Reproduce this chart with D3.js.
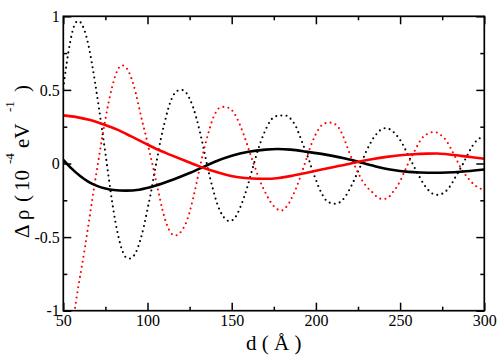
<!DOCTYPE html>
<html>
<head>
<meta charset="utf-8">
<script src="https://cdn.jsdelivr.net/npm/d3@7"></script>
<style>
html,body{margin:0;padding:0;background:#fff;}
svg{display:block;}
</style>
</head>
<body>
<svg id="chart" width="502" height="359"></svg>
<script>
// ---- data ----
const xTicks = [50, 100, 150, 200, 250, 300];
const xTickLabels = ["50", "100", "150", "200", "250", "300"];
const xMinorTicks = [75, 125, 175, 225, 275];
const yTicks = [-1, -0.5, 0, 0.5, 1];
const yTickLabels = ["-1", "-0.5", "0", "0.5", "1"];
const yMinorTicks = [-0.75, -0.25, 0.25, 0.75];

const blackSolidX = [50,55,60,65,70,75,80,87,95,105,115,125,132,140,150,160,170,177,185,195,205,215,222,228,235,245,255,262,270,278,286,294,300];
const blackSolidY = [0.025,-0.035,-0.085,-0.125,-0.152,-0.170,-0.180,-0.184,-0.178,-0.150,-0.110,-0.065,-0.030,0.012,0.053,0.080,0.094,0.098,0.094,0.079,0.062,0.040,0.022,0.003,-0.018,-0.043,-0.057,-0.061,-0.063,-0.061,-0.056,-0.048,-0.041];

const redSolidX = [50,58,66,74,82,90,98,106,114,122,130,138,146,154,162,170,178,186,194,202,210,218,226,234,242,250,258,266,272,278,286,294,300];
const redSolidY = [0.327,0.315,0.295,0.265,0.230,0.186,0.140,0.095,0.057,0.020,-0.016,-0.048,-0.074,-0.093,-0.102,-0.104,-0.098,-0.083,-0.064,-0.044,-0.025,-0.007,0.014,0.031,0.045,0.056,0.063,0.067,0.068,0.063,0.052,0.041,0.032];

const blackDotX = [50,52,54,56,58,59.5,61,63,65,67,69,71,73,75,77,79,81,83,85,87,89.5,92,94,96,98,100,102,104,106,108,110,112,114,116,118,120.5,123,125,127,129,131,133,135,137,139,141,143,145,147,149,151,153,155,157,159,161,163,165,167,169,171,173,175,178,181.5,184,186,188,190,192,194,196,198,200,202,204,206,208,210,212,214,216,218,220,222,224,226,228,230,232,234,236,238,240,242,244,246,248,250,252,254,256,258,260,262,264,266,268,270,272.5,275,277,279,281,283,285,287,289,291,293,295,297,299,300];
const blackDotY = [0.51,0.68,0.82,0.92,0.963,0.966,0.945,0.89,0.80,0.68,0.54,0.39,0.23,0.07,-0.10,-0.26,-0.40,-0.51,-0.59,-0.635,-0.645,-0.625,-0.58,-0.51,-0.42,-0.31,-0.20,-0.07,0.05,0.17,0.27,0.36,0.43,0.475,0.495,0.499,0.48,0.44,0.385,0.31,0.22,0.12,0.01,-0.09,-0.18,-0.26,-0.32,-0.36,-0.385,-0.392,-0.38,-0.35,-0.30,-0.24,-0.17,-0.09,-0.01,0.07,0.14,0.20,0.25,0.29,0.315,0.325,0.327,0.315,0.29,0.255,0.20,0.14,0.08,0.02,-0.05,-0.11,-0.17,-0.215,-0.25,-0.265,-0.272,-0.274,-0.265,-0.245,-0.215,-0.175,-0.13,-0.08,-0.03,0.03,0.085,0.13,0.17,0.20,0.225,0.238,0.24,0.232,0.215,0.19,0.16,0.12,0.075,0.03,-0.015,-0.06,-0.10,-0.14,-0.17,-0.195,-0.208,-0.213,-0.205,-0.19,-0.165,-0.13,-0.09,-0.05,-0.01,0.035,0.08,0.12,0.15,0.17,0.18,0.182];

const redDotX = [55,57,59,61,63,65,67,69,71,73,75,77,79,81,83,85,87,89,91,93,95,97,99,101,103,105,107,109,111,113,115,117,119,121,123,125,127,129,131,133,135,137,139,141,143,146,149,151,153,155,157,159,161,163,165,167,169,171,173,175,177,179.5,182,184,186,188,190,192,194,196,198,200,202,204,206,208,210,212,214,216,218,220,222,224,226,228,230,232,234,236,238,240,242,244,246,248,250,252,254,256,258,260,262,264,266,268,270,272,274,276,278,280,282,284,286,288,290,292,294,296,298,300];
const redDotY = [-1.12,-0.98,-0.83,-0.70,-0.56,-0.41,-0.26,-0.11,0.03,0.17,0.30,0.42,0.52,0.60,0.65,0.667,0.655,0.62,0.56,0.48,0.38,0.28,0.19,0.09,-0.01,-0.115,-0.22,-0.32,-0.40,-0.455,-0.483,-0.488,-0.475,-0.445,-0.40,-0.33,-0.24,-0.14,-0.03,0.07,0.16,0.24,0.31,0.355,0.38,0.385,0.372,0.35,0.31,0.26,0.20,0.135,0.065,0.00,-0.065,-0.125,-0.175,-0.22,-0.26,-0.29,-0.31,-0.32,-0.30,-0.27,-0.225,-0.175,-0.115,-0.05,0.02,0.09,0.15,0.20,0.24,0.265,0.275,0.278,0.275,0.262,0.235,0.19,0.13,0.07,0.015,-0.04,-0.085,-0.125,-0.155,-0.18,-0.20,-0.225,-0.238,-0.241,-0.238,-0.22,-0.19,-0.16,-0.12,-0.07,-0.02,0.03,0.07,0.115,0.155,0.185,0.20,0.21,0.213,0.21,0.195,0.175,0.145,0.105,0.06,0.015,-0.03,-0.065,-0.095,-0.12,-0.145,-0.16,-0.172,-0.178];

// ---- layout ----
const L = 63.3, R = 484.3, T = 16.3, B = 310.7;
const FONT = "'Liberation Serif','Times New Roman',serif";
const svg = d3.select("#chart");
const x = d3.scaleLinear().domain([50, 300]).range([L, R]);
const y = d3.scaleLinear().domain([-1, 1]).range([B, T]);

svg.append("defs").append("clipPath").attr("id", "clip")
  .append("rect").attr("x", L).attr("y", T).attr("width", R - L).attr("height", B - T);

const line = d3.line().x(d => x(d[0])).y(d => y(d[1])).curve(d3.curveMonotoneX);
const zip = (xs, ys) => xs.map((v, i) => [v, ys[i]]);

const plot = svg.append("g").attr("clip-path", "url(#clip)");
plot.append("path").attr("d", line(zip(blackDotX, blackDotY)))
  .attr("fill", "none").attr("stroke", "#000").attr("stroke-width", 2.1)
  .attr("stroke-linecap", "round").attr("stroke-dasharray", "0 5.2");
plot.append("path").attr("d", line(zip(redDotX, redDotY)))
  .attr("fill", "none").attr("stroke", "#ff0000").attr("stroke-width", 2.1)
  .attr("stroke-linecap", "round").attr("stroke-dasharray", "0 5.2");
plot.append("path").attr("d", line(zip(blackSolidX, blackSolidY)))
  .attr("fill", "none").attr("stroke", "#000").attr("stroke-width", 2.6);
plot.append("path").attr("d", line(zip(redSolidX, redSolidY)))
  .attr("fill", "none").attr("stroke", "#ff0000").attr("stroke-width", 2.6);

// ---- axes / ticks (inward, all four sides) ----
function styleAxis(g) {
  g.attr("font-family", FONT).attr("font-size", 16);
  g.select(".domain").remove();
  g.selectAll("line").attr("stroke", "#000").attr("stroke-width", 1.5);
  g.selectAll("text").attr("fill", "#000");
}
const fmtX = d => xTickLabels[xTicks.indexOf(d)];
const fmtY = d => yTickLabels[yTicks.indexOf(d)];

svg.append("g").attr("transform", `translate(0,${B})`)
  .call(d3.axisBottom(x).tickValues(xTicks).tickSize(-8).tickPadding(4).tickFormat(fmtX)).call(styleAxis);
svg.append("g").attr("transform", `translate(0,${B})`)
  .call(d3.axisBottom(x).tickValues(xMinorTicks).tickSize(-4).tickFormat("")).call(styleAxis);
svg.append("g").attr("transform", `translate(0,${T})`)
  .call(d3.axisTop(x).tickValues(xTicks).tickSize(-8).tickFormat("")).call(styleAxis);
svg.append("g").attr("transform", `translate(0,${T})`)
  .call(d3.axisTop(x).tickValues(xMinorTicks).tickSize(-4).tickFormat("")).call(styleAxis);

svg.append("g").attr("transform", `translate(${L},0)`)
  .call(d3.axisLeft(y).tickValues(yTicks).tickSize(-8).tickPadding(3.5).tickFormat(fmtY)).call(styleAxis);
svg.append("g").attr("transform", `translate(${L},0)`)
  .call(d3.axisLeft(y).tickValues(yMinorTicks).tickSize(-4).tickFormat("")).call(styleAxis);
svg.append("g").attr("transform", `translate(${R},0)`)
  .call(d3.axisRight(y).tickValues(yTicks).tickSize(-8).tickFormat("")).call(styleAxis);
svg.append("g").attr("transform", `translate(${R},0)`)
  .call(d3.axisRight(y).tickValues(yMinorTicks).tickSize(-4).tickFormat("")).call(styleAxis);

svg.append("rect").attr("x", L).attr("y", T).attr("width", R - L).attr("height", B - T)
  .attr("fill", "none").attr("stroke", "#000").attr("stroke-width", 1.7);

// ---- axis titles ----
svg.append("text").attr("x", (L + R) / 2).attr("y", 350).attr("text-anchor", "middle")
  .attr("font-family", FONT).attr("font-size", 21).attr("fill", "#000").text("d ( Å )");

const yt = svg.append("g").attr("transform", "translate(28.5,238) rotate(-90)")
  .attr("fill", "#000").attr("font-family", FONT);
const mainParts = [["Δ", 0], ["ρ", 18], ["(", 36], ["10", 47], ["eV", 90], [")", 146]];
mainParts.forEach(p => yt.append("text").attr("x", p[1]).attr("y", 0).attr("font-size", 21).text(p[0]));
const supParts = [["-4", 74], ["-1", 126]];
supParts.forEach(p => yt.append("text").attr("x", p[1]).attr("y", -14.5).attr("font-size", 13).text(p[0]));
</script>
</body>
</html>
